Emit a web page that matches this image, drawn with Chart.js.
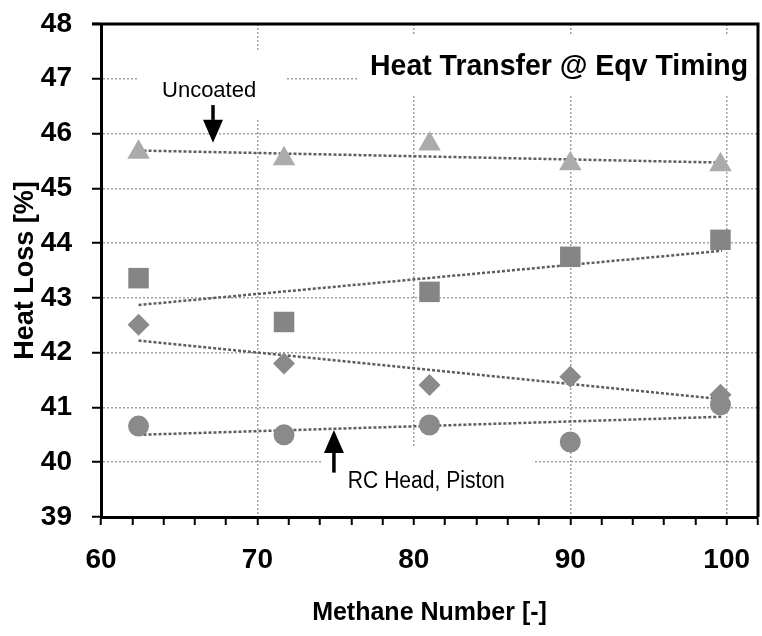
<!DOCTYPE html>
<html><head><meta charset="utf-8">
<script src="https://cdn.jsdelivr.net/npm/chart.js@4.4.1/dist/chart.umd.min.js"></script>
<style>html,body{margin:0;padding:0;background:#fff}#wrap{width:762px;height:636px}</style>
</head><body><div id="wrap"><canvas id="c" width="762" height="636"></canvas></div>
<script>
// ---- data ----
const methaneNumber = [62.4, 71.7, 81.0, 90.0, 99.6];
const uncoated      = [45.66, 45.54, 45.81, 45.45, 45.43];
const squareSeries  = [43.36, 42.56, 43.11, 43.75, 44.06];
const diamondSeries = [42.51, 41.80, 41.41, 41.56, 41.23];
const rcHeadPiston  = [40.66, 40.50, 40.68, 40.37, 41.05];
const trendX        = [62.4, 99.7];
const uncoatedTrend = [45.69, 45.47];
const squareTrend   = [42.87, 43.86];
const diamondTrend  = [42.22, 41.15];
const rcTrend       = [40.50, 40.83];
const xTickLabels   = [60, 70, 80, 90, 100];
const yTickLabels   = [39, 40, 41, 42, 43, 44, 45, 46, 47, 48];
const chartTitle = 'Heat Transfer @ Eqv Timing';
const xTitle = 'Methane Number [-]';
const yTitle = 'Heat Loss [%]';
const labelUncoated = 'Uncoated';
const labelRC = 'RC Head, Piston';

const FONT = '"Liberation Sans", Arial, sans-serif';

function pts(xs, ys){ return xs.map((x,i)=>({x:x, y:ys[i]})); }

const markerSet = (label, ys, style, radius, color) => ({
  label, data: pts(methaneNumber, ys), showLine:false,
  pointStyle: style, pointRadius: radius, pointHoverRadius: radius,
  pointBackgroundColor: color, pointBorderWidth: 0, order: 0
});
const trendSet = (label, ys) => ({
  label, data: pts(trendX, ys), showLine:true, pointRadius:0,
  borderColor:'#5e5e5e', borderWidth:2.5, borderDash:[3,2], fill:false, order: 5
});

// annotation boxes/text in data units
const notes = {
  title:    {text: chartTitle, x: 77.2, y: 47.07, w: 378, font: 'bold 30px '+FONT,
             box: [76.42, 101.9, 47.78, 46.70]},
  uncoated: {text: labelUncoated, x: 63.9, y: 46.67, w: 95, font: '22px '+FONT,
             box: [62.3, 71.76, 47.53, 46.28], arrow: {x: 67.16, from: 46.52, to: 45.83}},
  rc:       {text: labelRC, x: 75.78, y: 39.53, w: 157, font: '23px '+FONT,
             box: [74.12, 87.6, 40.28, 39.02], arrow: {x: 74.89, from: 39.81, to: 40.59}}
};

function drawArrow(ctx, x, yFrom, yTo){
  const dir = yTo > yFrom ? 1 : -1;
  const headLen = 23, headW = 10;
  ctx.save();
  ctx.strokeStyle = '#000'; ctx.fillStyle = '#000'; ctx.lineWidth = 3.5;
  ctx.beginPath(); ctx.moveTo(x, yFrom); ctx.lineTo(x, yTo - dir*headLen); ctx.stroke();
  ctx.beginPath(); ctx.moveTo(x, yTo); ctx.lineTo(x-headW, yTo - dir*headLen);
  ctx.lineTo(x+headW, yTo - dir*headLen); ctx.closePath(); ctx.fill();
  ctx.restore();
}

const annotPlugin = {
  id:'annot',
  beforeDatasetsDraw(chart){
    const {ctx, scales:{x, y}} = chart;
    ctx.save(); ctx.fillStyle = '#fff';
    Object.values(notes).forEach(n=>{
      const [x1,x2,y1,y2] = n.box;
      const px1 = x.getPixelForValue(x1), px2 = x.getPixelForValue(x2);
      const py1 = y.getPixelForValue(y1), py2 = y.getPixelForValue(y2);
      ctx.fillRect(px1, py1, px2-px1, py2-py1);
    });
    ctx.restore();
  },
  afterDraw(chart){
    const {ctx, chartArea:a, scales:{x, y}} = chart;
    ctx.save();
    ctx.fillStyle = '#000'; ctx.textBaseline = 'alphabetic'; ctx.textAlign = 'left';
    Object.values(notes).forEach(n=>{
      ctx.font = n.font;
      ctx.fillText(n.text, x.getPixelForValue(n.x), y.getPixelForValue(n.y), n.w);
      if (n.arrow) drawArrow(ctx, x.getPixelForValue(n.arrow.x), y.getPixelForValue(n.arrow.from), y.getPixelForValue(n.arrow.to));
    });
    // top & right frame
    ctx.strokeStyle = '#000'; ctx.lineWidth = 3;
    ctx.beginPath();
    ctx.moveTo(a.left - 9, a.top); ctx.lineTo(a.right, a.top); ctx.lineTo(a.right, a.bottom);
    ctx.stroke();
    ctx.restore();
  }
};

function zeroPad(s){ s.paddingLeft = 0; s.paddingRight = 0; s.paddingTop = 0; s.paddingBottom = 0; }

new Chart(document.getElementById('c'), {
  type:'scatter',
  data:{ datasets:[
    markerSet('Uncoated', uncoated, 'triangle', 13, '#ababab'),
    markerSet('Series 2', squareSeries, 'rect', 14.5, '#858585'),
    markerSet('Series 3', diamondSeries, 'rectRot', 11, '#8a8a8a'),
    markerSet('RC Head, Piston', rcHeadPiston, 'circle', 10.5, '#8a8a8a'),
    trendSet('Uncoated trend', uncoatedTrend),
    trendSet('Series 2 trend', squareTrend),
    trendSet('Series 3 trend', diamondTrend),
    trendSet('RC trend', rcTrend)
  ]},
  options:{
    responsive:false, animation:false, devicePixelRatio:1,
    layout:{autoPadding:false, padding:{top:24, right:4, left:0, bottom:0}},
    plugins:{legend:{display:false}, tooltip:{enabled:false}},
    scales:{
      x:{
        type:'linear', min:60, max:102,
        afterFit(s){ s.height = 119; zeroPad(s); },
        afterBuildTicks(s){ const t=[]; for(let v=60; v<=102; v+=2) t.push({value:v}); s.ticks = t; },
        ticks:{ autoSkip:false, maxRotation:0, padding:18, color:'#000',
          font:{family:FONT, size:28, weight:'bold'},
          callback:(v)=> xTickLabels.includes(v) ? String(v) : '' },
        grid:{ color:(c)=> (c.tick && xTickLabels.includes(c.tick.value) && c.tick.value!==60) ? '#a0a0a0' : 'rgba(0,0,0,0)',
          lineWidth:1.5, tickLength:8, tickColor:'#000', tickWidth:2 },
        border:{ color:'#000', width:3, dash:[2,2] },
        title:{ display:true, text:xTitle, color:'#000', padding:{top:0,bottom:8},
          font:{family:FONT, size:25, weight:'bold', lineHeight:1.2} }
      },
      y:{
        type:'linear', min:39, max:48,
        afterFit(s){ s.width = 101; zeroPad(s); },
        afterBuildTicks(s){ s.ticks = yTickLabels.map(v=>({value:v})); },
        ticks:{ padding:20, color:'#000', font:{family:FONT, size:28, weight:'bold'},
          callback:(v)=> String(v) },
        grid:{ color:(c)=> (c.tick && c.tick.value>39 && c.tick.value<48) ? '#a0a0a0' : 'rgba(0,0,0,0)',
          lineWidth:1.5, tickLength:9, tickColor:'#000', tickWidth:2 },
        border:{ color:'#000', width:3, dash:[2,2] },
        title:{ display:true, text:yTitle, color:'#000', padding:{top:9,bottom:0},
          font:{family:FONT, size:27, weight:'bold', lineHeight:1.2} }
      }
    }
  },
  plugins:[annotPlugin]
});
</script></body></html>
